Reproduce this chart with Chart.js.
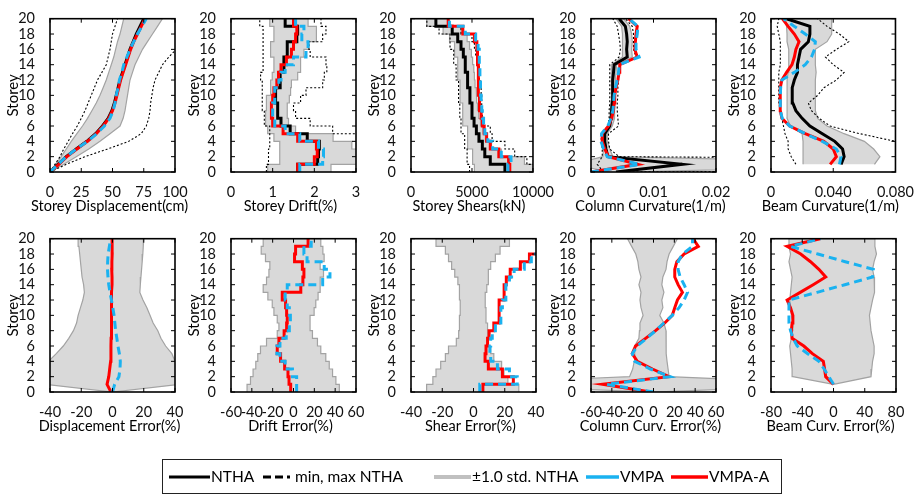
<!DOCTYPE html>
<html>
<head>
<meta charset="utf-8">
<title>Storey response profiles - NTHA vs VMPA</title>
<script src="https://cdn.jsdelivr.net/npm/chart.js@4.4.1/dist/chart.umd.min.js"></script>
<style>
    html, body { margin: 0; padding: 0; background: #fff; }
    #page { position: relative; width: 917px; height: 495px; overflow: hidden; font-family: Lato, Carlito, Calibri, sans-serif; }
    #page canvas { position: absolute; }
    #legend { position: absolute; left: 162px; top: 459px; width: 620px; height: 35px; border: 1.3px solid #222; box-sizing: border-box; background: #fff; }
    #legend .key { position: absolute; top: 13px; }
    #legend .lbl { position: absolute; top: 0; line-height: 33px; font-size: 15.5px; color: #000; white-space: nowrap; }
</style>
</head>
<body>
<div id="page">
    <div id="legend">
        <svg class="key" style="left:6px" width="41" height="8"><line x1="0" y1="4" x2="41" y2="4" stroke="#000" stroke-width="3"/></svg>
        <span class="lbl" style="left:48px">NTHA</span>
        <svg class="key" style="left:100px" width="32" height="8"><line x1="0" y1="4" x2="32" y2="4" stroke="#000" stroke-width="3" stroke-dasharray="8 4 8 4 3 6"/></svg>
        <span class="lbl" style="left:132px">min, max NTHA</span>
        <svg class="key" style="left:271px" width="37" height="8"><line x1="0" y1="4" x2="37" y2="4" stroke="#c0c0c0" stroke-width="4"/></svg>
        <span class="lbl" style="left:309px">±1.0 std. NTHA</span>
        <svg class="key" style="left:423px" width="33" height="8"><line x1="0" y1="4" x2="33" y2="4" stroke="#1ab2f0" stroke-width="3.5"/></svg>
        <span class="lbl" style="left:457px">VMPA</span>
        <svg class="key" style="left:508px" width="37" height="8"><line x1="0" y1="4" x2="37" y2="4" stroke="#ff0000" stroke-width="3.5"/></svg>
        <span class="lbl" style="left:546px">VMPA-A</span>
    </div>
</div>
<script>
// ==============================================================================
// 1. DATA
// ==============================================================================
const storeys = [0, 1, 2, 3, 4, 5, 6, 7, 8, 9, 10, 11, 12, 13, 14, 15, 16, 17, 18, 19, 20];
const storeysFrom1 = [1, 2, 3, 4, 5, 6, 7, 8, 9, 10, 11, 12, 13, 14, 15, 16, 17, 18, 19, 20];
const storeyTicks = [0, 2, 4, 6, 8, 10, 12, 14, 16, 18, 20];

// x tick values / labels per panel
const dispTicks = [0, 25, 50, 75, 100];
const driftTicks = [0, 1, 2, 3];
const shearTicks = [0, 5000, 10000];
const colCurvTicks = [0, 0.01, 0.02];
const colCurvLabels = ['0', '0.01', '0.02'];
const beamCurvTicks = [0, 0.04, 0.08];
const beamCurvLabels = ['0', '0.040', '0.080'];
const err40Ticks = [-40, -20, 0, 20, 40];
const err60Ticks = [-60, -40, -20, 0, 20, 40, 60];
const err80Ticks = [-80, -40, 0, 40, 80];

// Storey displacement (cm), floor levels 0..20
const dispNTHA  = [0, 6.5, 13, 21, 29.5, 36.5, 42, 46.5, 49.5, 51.5, 53, 54.5, 56, 58, 60, 62, 64, 66.5, 69, 72, 75];
const dispVMPAA = [0, 7, 13.5, 21.5, 30, 37, 42.5, 47, 50, 52, 53.5, 55, 56.5, 58.5, 60.5, 62.5, 64.5, 67, 70, 73, 76];
const dispVMPA  = [0, 6.5, 13, 21, 30, 37.5, 43.5, 48, 50.5, 52, 53, 54.5, 55.5, 57.5, 59, 61.5, 64, 67, 70, 73.5, 77];
const dispStdLo = [0, 4.5, 9, 13, 17, 21.5, 26, 30, 33.5, 37, 40, 42.5, 45, 47, 49, 51, 52.5, 54, 56, 57.5, 59];
const dispStdHi = [0, 11, 21, 31, 40, 48, 56, 58.5, 60, 61, 62, 63, 64, 66, 68, 71, 74, 78, 82, 86, 90];
const dispMin   = [0, 4, 8, 11, 14.6, 18, 21.8, 25, 28, 30.5, 33, 35.5, 38, 41.5, 45, 46.5, 48, 49, 50, 52, 54];
const dispMax   = [0, 13, 28, 46, 63, 73, 77, 79, 80, 80.5, 81.5, 82.5, 84, 87, 90, 95, 101, 106, 110, 114, 118];

// Storey drift (%), one value per storey 1..20
const driftNTHA  = [1.6, 2.08, 2.1, 2.12, 1.83, 1.42, 1.2, 1.12, 1.12, 1.07, 1.07, 1.18, 1.18, 1.27, 1.27, 1.35, 1.35, 1.58, 1.6, 1.3];
const driftVMPAA = [1.6, 2.0, 2.07, 2.05, 1.6, 1.25, 1.0, 0.97, 0.97, 1.0, 1.03, 1.1, 1.14, 1.2, 1.33, 1.45, 1.5, 1.55, 1.58, 1.5];
const driftVMPA  = [1.65, 2.2, 2.22, 2.1, 1.65, 1.3, 1.05, 1.0, 1.0, 1.05, 1.05, 1.15, 1.2, 1.3, 1.5, 1.8, 1.85, 1.7, 1.75, 1.55];
const driftStdLo = [0.88, 1.17, 1.17, 1.17, 1.03, 0.88, 0.83, 0.83, 0.85, 0.85, 0.95, 0.95, 0.99, 1.03, 1.03, 0.95, 0.95, 1.03, 1.03, 0.93];
const driftStdHi = [2.4, 3.2, 3.2, 2.9, 2.45, 1.55, 1.38, 1.35, 1.35, 1.4, 1.43, 1.45, 1.6, 1.67, 1.67, 1.75, 1.87, 2.05, 2.05, 1.85];
const driftMin   = [0.85, 0.9, 0.9, 0.93, 0.93, 0.93, 0.8, 0.8, 0.75, 0.75, 0.75, 0.75, 0.71, 0.77, 0.77, 0.77, 0.77, 0.77, 0.77, 0.69];
const driftMax   = [3.3, 3.3, 3.3, 3.3, 3.3, 2.44, 1.9, 1.55, 1.5, 1.67, 1.8, 2.2, 2.24, 2.3, 2.28, 1.9, 1.87, 2.2, 2.28, 2.16];

// Storey shear (kN), one value per storey 1..20
const shearNTHA  = [7700, 6500, 6050, 5850, 5570, 5360, 5170, 5000, 5000, 4830, 4830, 4640, 4640, 4450, 4450, 4290, 4100, 3830, 3380, 2040];
const shearVMPAA = [8100, 8000, 7200, 6500, 6200, 6000, 5850, 5750, 5650, 5600, 5550, 5550, 5500, 5500, 5450, 5450, 5400, 5200, 4250, 3050];
const shearVMPA  = [7950, 8200, 7400, 6700, 6300, 6050, 5950, 5850, 5800, 5750, 5700, 5700, 5650, 5650, 5600, 5600, 5500, 5300, 4450, 3150];
const shearStdLo = [5200, 5050, 5050, 4640, 4640, 4640, 4240, 4240, 4240, 4020, 4020, 4020, 3830, 3830, 3830, 3570, 3570, 3160, 2630, 1290];
const shearStdHi = [10500, 9300, 7400, 6600, 6100, 5900, 5700, 5550, 5450, 5400, 5350, 5250, 5200, 5150, 5050, 4950, 4800, 4600, 4100, 3050];
const shearMin   = [4800, 4600, 4600, 4400, 4400, 4100, 4100, 4000, 4000, 3900, 3900, 3900, 3700, 3700, 3500, 3500, 3200, 3200, 2300, 1300];
const shearMax   = [10500, 9500, 8500, 7700, 6650, 6500, 5900, 5850, 5800, 5800, 5750, 5700, 5600, 5600, 5550, 5300, 5200, 5000, 4100, 3100];

// Column curvature (1/m), floor levels 0..20
const colNTHA  = [0.004, 0.0146, 0.0027, 0.0024, 0.0022, 0.0022, 0.003, 0.0032, 0.0033, 0.0034, 0.0034, 0.0035, 0.0035, 0.0036, 0.0037, 0.0058, 0.0057, 0.0058, 0.0057, 0.0055, 0.0045];
const colVMPAA = [0, 0.0075, 0.0028, 0.0022, 0.0018, 0.0018, 0.0028, 0.0033, 0.0036, 0.0037, 0.0038, 0.004, 0.0043, 0.0045, 0.0046, 0.0074, 0.007, 0.0071, 0.0072, 0.0074, 0.006];
const colVMPA  = [0, 0.0078, 0.0026, 0.002, 0.0016, 0.0017, 0.0027, 0.0032, 0.0035, 0.0036, 0.0037, 0.0039, 0.0042, 0.0044, 0.0045, 0.0077, 0.0072, 0.0072, 0.0074, 0.0075, 0.0061];
const colStdLo = [0.003, -0.003, 0.0019, 0.002, 0.0019, 0.0019, 0.0028, 0.003, 0.0031, 0.0032, 0.0032, 0.0032, 0.0033, 0.0033, 0.0033, 0.005, 0.005, 0.0051, 0.005, 0.0049, 0.004];
const colStdHi = [0.005, 0.06, 0.0035, 0.003, 0.0026, 0.0026, 0.0034, 0.0037, 0.0038, 0.0038, 0.0038, 0.0039, 0.0039, 0.004, 0.0041, 0.0066, 0.0065, 0.0066, 0.0065, 0.0062, 0.0052];
const colMin   = [0.002, 0.001, 0.0018, 0.0018, 0.0016, 0.0017, 0.0027, 0.0029, 0.0029, 0.003, 0.003, 0.003, 0.003, 0.003, 0.003, 0.0045, 0.0047, 0.0046, 0.0044, 0.0042, 0.0035];
const colMax   = [0.006, 0.2, 0.0045, 0.003, 0.0028, 0.0028, 0.0044, 0.0043, 0.0042, 0.0042, 0.0043, 0.0043, 0.0044, 0.0045, 0.0047, 0.0072, 0.0068, 0.0068, 0.0068, 0.0066, 0.0055];

// Beam curvature (1/m), floor levels 1..20
const beamNTHA  = [0.045, 0.047, 0.046, 0.041, 0.033, 0.025, 0.020, 0.016, 0.014, 0.0135, 0.0138, 0.015, 0.017, 0.017, 0.018, 0.019, 0.024, 0.025, 0.025, 0.010];
const beamVMPAA = [0.038, 0.042, 0.040, 0.034, 0.022, 0.012, 0.007, 0.006, 0.0058, 0.0058, 0.0062, 0.007, 0.010, 0.0135, 0.015, 0.016, 0.018, 0.015, 0.011, 0.0073];
const beamVMPA  = [0.044, 0.045, 0.042, 0.033, 0.022, 0.012, 0.0072, 0.006, 0.006, 0.006, 0.0062, 0.007, 0.015, 0.022, 0.026, 0.028, 0.0285, 0.022, 0.015, 0.008];
const beamStdLo = [0.0206, 0.0206, 0.0206, 0.0206, 0.02, 0.0125, 0.0103, 0.0103, 0.0103, 0.0103, 0.0103, 0.0105, 0.011, 0.0114, 0.0114, 0.0114, 0.0103, 0.0103, 0.01, 0.0092];
const beamStdHi = [0.0665, 0.07, 0.066, 0.06, 0.047, 0.036, 0.030, 0.0285, 0.0285, 0.0285, 0.0285, 0.0285, 0.029, 0.0285, 0.0285, 0.0285, 0.036, 0.039, 0.039, 0.039];
const beamMin   = [0.016, 0.013, 0.011, 0.011, 0.009, 0.008, 0.007, 0.006, 0.005, 0.005, 0.005, 0.005, 0.005, 0.006, 0.006, 0.006, 0.006, 0.005, 0.004, 0.005];
const beamMax   = [0.12, 0.11, 0.095, 0.080, 0.057, 0.038, 0.031, 0.026, 0.024, 0.03, 0.034, 0.042, 0.047, 0.04, 0.035, 0.042, 0.050, 0.044, 0.036, 0.030];

// Displacement error (%), floor levels 0..20
const dispErrStdLo = [0, -43.5, -44, -43, -41, -36, -31.5, -28, -25, -23, -22, -20.5, -19, -18, -18.5, -19.5, -20, -20.5, -21, -21.5, -22];
const dispErrStdHi = [0, 43.5, 44, 42, 40, 38, 34, 31, 29, 26, 24, 22, 19.5, 17.5, 17.8, 18.2, 18.6, 19, 19.4, 19.7, 20];
const dispErrVMPAA = [-1, -3.5, -2.4, -1.8, -1.2, -1, -1, -0.9, -0.8, -0.8, -0.8, -0.6, -0.5, -0.4, -0.3, -0.3, -0.5, -0.4, -0.2, -0.2, -0.3];
const dispErrVMPA  = [0, 1.4, 4.1, 4.8, 5, 4.4, 3.5, 2.8, 2, 1.5, 1, 0.2, -0.7, -1.6, -2.4, -2.9, -3.2, -3.1, -2.8, -2, -1.2];

// Drift error (%), one value per storey 1..20
const driftErrStdLo = [-44.6, -41.3, -38.8, -36.2, -34.3, -31.7, -25.9, -15.6, -14, -15.6, -18.8, -20.4, -24.6, -29.1, -25.9, -23.6, -22.7, -26.9, -31, -29.1];
const driftErrStdHi = [44, 40.7, 37.5, 34.3, 31, 26.2, 23, 18.2, 15.9, 15.9, 19.8, 21.4, 23.6, 25.6, 25.6, 28.8, 25.6, 29.4, 28.2, 26.2];
const driftErrVMPAA = [-2.7, -4.3, -5.3, -8.5, -12.4, -15.6, -14, -9, -6.6, -6, -6.6, -7.6, -10.8, 7, 9, 10, 8.5, 1, 2, 14];
const driftErrVMPA  = [3, 3, -1, -8, -13, -16, -13, -7, -4, -3, -4, -6, -8, -6, 28, 35, 29.5, 13, 10, 17];

// Shear error (%), one value per storey 1..20
const shearErrStdLo = [-30, -26, -24, -21, -18, -16, -11, -9.5, -9, -9, -8.5, -8.5, -9, -9, -10, -12, -14, -16, -18, -24];
const shearErrStdHi = [29, 22, 19.5, 18, 13, 11, 9.5, 9, 9, 8, 8, 7.5, 7.5, 8.5, 9.5, 9.5, 11, 14, 17, 23];
const shearErrVMPAA = [6, 25.5, 18.5, 9.5, 7.4, 8, 9, 10, 13, 16.4, 16.4, 16.4, 19.6, 19.6, 21, 23.5, 30, 35.8, 60, 60];
const shearErrVMPA  = [4, 28, 23, 15.3, 11, 10.5, 11, 12, 14, 17.5, 17.5, 18.5, 20.7, 20.7, 23, 26, 32.5, 37, 60, 60];

// Column curvature error (%), floor levels 0..20
const colErrStdLo = [0, -200, -23, -20, -18.5, -18, -18, -14, -13.5, -13, -10, -12, -13, -12, -14, -12, -14, -15, -17, -21, -25];
const colErrStdHi = [0, 200, 15, 14, 13, 12.5, 12, 12, 12, 10, 6, 9, 8, 10, 8, 9, 12, 13, 15, 19, 23];
const colErrVMPAA = [-2.7, -49, 15, -1, -15.6, -20.4, -17.2, -7.6, 2, 10.8, 18, 20.4, 23, 27.8, 23.6, 20.4, 20.4, 22.4, 29.4, 43, 38];
const colErrVMPA  = [0, -45, 16, -3, -18, -20.4, -15.6, -6.6, 2, 10, 18, 24.6, 29.4, 32.7, 29.4, 25.6, 23.6, 23.6, 27.8, 37.5, 37.5];

// Beam curvature error (%), floor levels 1..20
const beamErrStdLo = [0, -52, -53, -54, -55, -56, -54, -53, -52, -54, -55, -56, -55, -54, -53, -55, -57, -55, -57, -57];
const beamErrStdHi = [0, 48, 49, 50, 52, 52, 50, 48, 47, 46, 48, 50, 52, 53, 52, 50, 52, 55, 53, 53];
const beamErrVMPAA = [0, -10, -11.4, -13, -27, -38, -53, -54, -53, -52, -55, -59.4, -42.6, -26, -10, -18.7, -29.4, -42, -59.4, -17];
const beamErrVMPA  = [0, -6, -12, -18.7, -33, -46.5, -51.7, -55, -57, -57, -57, -57, -21, 14.5, 50, 51, 15, -20, -55, -16.5];

// ==============================================================================
// 2. STYLE + HELPERS
// ==============================================================================
const C_NTHA = '#000000';
const C_VMPA = '#1ab2f0';
const C_VMPAA = '#ff0000';
const C_BAND = '#d9d9d9';
const C_BAND_EDGE = '#a3a3a3';
const FONT_FAMILY = 'Lato, Carlito, sans-serif';
const FONT = { family: FONT_FAMILY, size: 14.5 };

const PLOT_W = 125, PLOT_H = 159;
const AXIS_W = 50, AXIS_H = 45, PAD_T = 10, PAD_R = 22;

// value list at given floor levels -> {x, y} points
function profile(vals, levels) {
    return vals.map((v, i) => ({ x: v, y: levels[i] }));
}

// per-storey values, held constant between floor i and i+1
function stairs(vals) {
    const pts = [];
    vals.forEach((v, i) => { pts.push({ x: v, y: i }, { x: v, y: i + 1 }); });
    return pts;
}

// closed outline: lower bound going up, upper bound coming back down
function band(lo, hi, levels) {
    return profile(lo, levels).concat(profile(hi, levels).reverse());
}
function joinBand(lo, hi) {
    return lo.concat(hi.slice().reverse());
}

function lineSet(data, color, width, dash) {
    return { data, showLine: true, borderColor: color, borderWidth: width, borderDash: dash || [],
             pointRadius: 0, pointHoverRadius: 0, fill: false, clip: 0 };
}
function bandSet(data) {
    return { data, showLine: true, borderColor: C_BAND_EDGE, borderWidth: 1.2, backgroundColor: C_BAND,
             fill: 'shape', pointRadius: 0, pointHoverRadius: 0, clip: 0 };
}

// order matters: first dataset ends up on top
function topSets(mean, vmpaa, vmpa, lo, hi, mn, mx) {
    return [
        lineSet(vmpa, C_VMPA, 3, [8, 5]),
        lineSet(vmpaa, C_VMPAA, 3),
        lineSet(mean, C_NTHA, 3),
        lineSet(mn, C_NTHA, 1.1, [2, 2]),
        lineSet(mx, C_NTHA, 1.1, [2, 2]),
        bandSet(joinBand(lo, hi))
    ];
}
function errSets(vmpaa, vmpa, bandPts) {
    return [
        lineSet(vmpa, C_VMPA, 3, [8, 5]),
        lineSet(vmpaa, C_VMPAA, 3),
        bandSet(bandPts)
    ];
}

// box frame with inward tick marks on all four sides, plus the x title
// (drawn here so it is not squeezed to the plot width)
const framePlugin = {
    id: 'frame',
    afterDatasetsDraw(chart, args, opts) {
        const { ctx, chartArea: a, scales: { x, y } } = chart;
        ctx.save();
        ctx.strokeStyle = '#000';
        ctx.lineWidth = 1;
        ctx.beginPath();
        x.ticks.forEach(t => {
            const px = x.getPixelForValue(t.value);
            ctx.moveTo(px, a.bottom); ctx.lineTo(px, a.bottom - 4);
            ctx.moveTo(px, a.top); ctx.lineTo(px, a.top + 4);
        });
        y.ticks.forEach(t => {
            const py = y.getPixelForValue(t.value);
            ctx.moveTo(a.left, py); ctx.lineTo(a.left + 4, py);
            ctx.moveTo(a.right, py); ctx.lineTo(a.right - 4, py);
        });
        ctx.stroke();
        ctx.lineWidth = 1.6;
        ctx.strokeRect(a.left, a.top, a.right - a.left, a.bottom - a.top);

        if (opts.title) {
            ctx.fillStyle = '#000';
            ctx.font = `${FONT.size}px ${FONT_FAMILY}`;
            ctx.textAlign = 'center';
            ctx.textBaseline = 'middle';
            ctx.fillText(opts.title, (a.left + a.right) / 2 - 3, a.bottom + 34);
        }
        ctx.restore();
    }
};

const page = document.getElementById('page');

function makePanel(p) {
    const canvas = document.createElement('canvas');
    canvas.width = AXIS_W + PLOT_W + PAD_R;
    canvas.height = PAD_T + PLOT_H + AXIS_H;
    canvas.style.left = (p.left - AXIS_W) + 'px';
    canvas.style.top = (p.top - PAD_T) + 'px';
    page.insertBefore(canvas, document.getElementById('legend'));

    const labels = p.labels || p.ticks.map(String);
    return new Chart(canvas, {
        type: 'scatter',
        data: { datasets: p.datasets },
        options: {
            responsive: false,
            animation: false,
            devicePixelRatio: 1,
            events: [],
            layout: { padding: { left: 0, top: PAD_T, right: PAD_R, bottom: 0 } },
            plugins: { legend: { display: false }, tooltip: { enabled: false }, frame: { title: p.title } },
            scales: {
                x: {
                    type: 'linear', min: p.min, max: p.max,
                    grid: { display: false }, border: { display: false },
                    afterBuildTicks: s => { s.ticks = p.ticks.map(v => ({ value: v })); },
                    afterFit: s => { s.height = AXIS_H; },
                    ticks: { autoSkip: false, maxRotation: 0, minRotation: 0, padding: 4, color: '#111', font: FONT,
                             callback: (v, i) => labels[i] },
                    title: { display: false }
                },
                y: {
                    type: 'linear', min: 0, max: 20,
                    grid: { display: false }, border: { display: false },
                    afterBuildTicks: s => { s.ticks = storeyTicks.map(v => ({ value: v })); },
                    afterFit: s => { s.width = AXIS_W; },
                    ticks: { autoSkip: false, padding: 7, color: '#111', font: FONT },
                    title: { display: true, text: 'Storey', color: '#000', font: { family: FONT_FAMILY, size: 15 }, padding: { top: 4, bottom: 0 } }
                }
            }
        },
        plugins: [framePlugin]
    });
}

// ==============================================================================
// 3. PANELS
// ==============================================================================
const COLS = [50, 231, 411, 591, 771];
const ROW_TOP = 13, ROW_BOTTOM = 233;

makePanel({
    left: COLS[0], top: ROW_TOP, min: 0, max: 100, ticks: dispTicks, title: 'Storey Displacement(cm)',
    datasets: topSets(profile(dispNTHA, storeys), profile(dispVMPAA, storeys), profile(dispVMPA, storeys),
        profile(dispStdLo, storeys), profile(dispStdHi, storeys), profile(dispMin, storeys), profile(dispMax, storeys))
});
makePanel({
    left: COLS[1], top: ROW_TOP, min: 0, max: 3, ticks: driftTicks, title: 'Storey Drift(%)',
    datasets: topSets(stairs(driftNTHA), stairs(driftVMPAA), stairs(driftVMPA),
        stairs(driftStdLo), stairs(driftStdHi), stairs(driftMin), stairs(driftMax))
});
makePanel({
    left: COLS[2], top: ROW_TOP, min: 0, max: 10000, ticks: shearTicks, title: 'Storey Shears(kN)',
    datasets: topSets(stairs(shearNTHA), stairs(shearVMPAA), stairs(shearVMPA),
        stairs(shearStdLo), stairs(shearStdHi), stairs(shearMin), stairs(shearMax))
});
makePanel({
    left: COLS[3], top: ROW_TOP, min: 0, max: 0.02, ticks: colCurvTicks, labels: colCurvLabels, title: 'Column Curvature(1/m)',
    datasets: topSets(profile(colNTHA, storeys), profile(colVMPAA, storeys), profile(colVMPA, storeys),
        profile(colStdLo, storeys), profile(colStdHi, storeys), profile(colMin, storeys), profile(colMax, storeys))
});
makePanel({
    left: COLS[4], top: ROW_TOP, min: 0, max: 0.08, ticks: beamCurvTicks, labels: beamCurvLabels, title: 'Beam Curvature(1/m)',
    datasets: topSets(profile(beamNTHA, storeysFrom1), profile(beamVMPAA, storeysFrom1), profile(beamVMPA, storeysFrom1),
        profile(beamStdLo, storeysFrom1), profile(beamStdHi, storeysFrom1), profile(beamMin, storeysFrom1), profile(beamMax, storeysFrom1))
});

makePanel({
    left: COLS[0], top: ROW_BOTTOM, min: -40, max: 40, ticks: err40Ticks, title: 'Displacement Error(%)',
    datasets: errSets(profile(dispErrVMPAA, storeys), profile(dispErrVMPA, storeys), band(dispErrStdLo, dispErrStdHi, storeys))
});
makePanel({
    left: COLS[1], top: ROW_BOTTOM, min: -60, max: 60, ticks: err60Ticks, title: 'Drift Error(%)',
    datasets: errSets(stairs(driftErrVMPAA), stairs(driftErrVMPA), joinBand(stairs(driftErrStdLo), stairs(driftErrStdHi)))
});
makePanel({
    left: COLS[2], top: ROW_BOTTOM, min: -40, max: 40, ticks: err40Ticks, title: 'Shear Error(%)',
    datasets: errSets(stairs(shearErrVMPAA), stairs(shearErrVMPA), joinBand(stairs(shearErrStdLo), stairs(shearErrStdHi)))
});
makePanel({
    left: COLS[3], top: ROW_BOTTOM, min: -60, max: 60, ticks: err60Ticks, title: 'Column Curv. Error(%)',
    datasets: errSets(profile(colErrVMPAA, storeys), profile(colErrVMPA, storeys), band(colErrStdLo, colErrStdHi, storeys))
});
makePanel({
    left: COLS[4], top: ROW_BOTTOM, min: -80, max: 80, ticks: err80Ticks, title: 'Beam Curv. Error(%)',
    datasets: errSets(profile(beamErrVMPAA, storeysFrom1), profile(beamErrVMPA, storeysFrom1), band(beamErrStdLo, beamErrStdHi, storeysFrom1))
});
</script>
</body>
</html>
